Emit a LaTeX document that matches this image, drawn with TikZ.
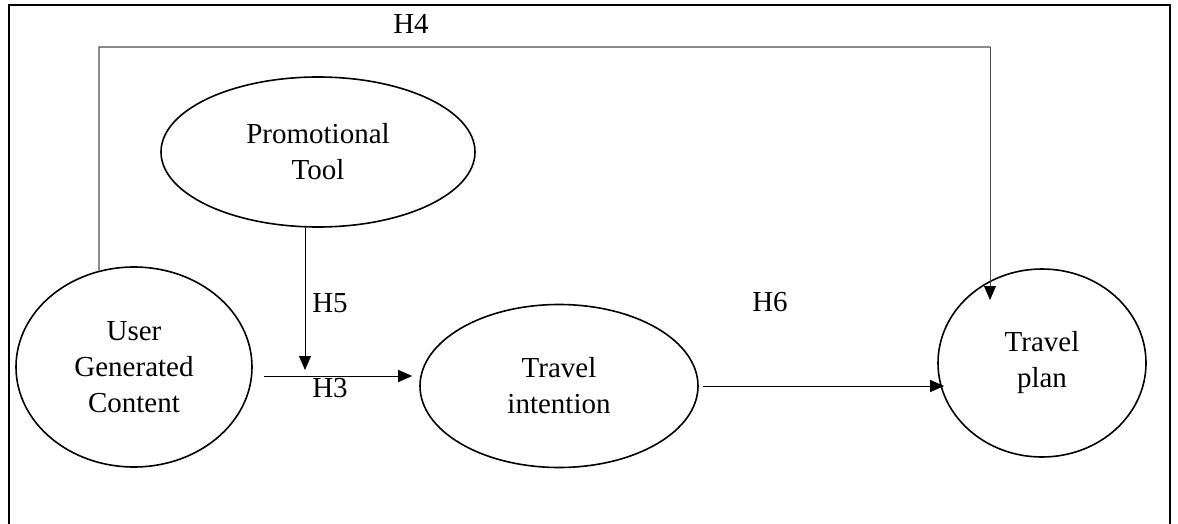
\documentclass[tikz,border=0pt]{standalone}
\usepackage{fontspec}
\setmainfont{Liberation Serif}
\usetikzlibrary{shapes.geometric, arrows.meta, calc}

\tikzset{
  construct/.style={ellipse, draw, line width=0.8pt, inner sep=0pt, align=center},
  path arrow/.style={line width=0.5pt, -{Triangle[length=7pt, width=6pt, black]}},
  hyp/.style={inner sep=0pt}
}

\begin{document}
\begin{tikzpicture}[x=0.5pt, y=-0.5pt, every node/.style={font=\fontsize{14.5}{18}\selectfont}]

  \useasboundingbox (0,0) rectangle (1178,524);

  % --- frame (bottom edge cut off) ---
  \draw[line width=1pt] (9,540) -- (9,5) -- (1170,5) -- (1170,540);

  % --- constructs ---
  \node[construct, minimum width=118pt, minimum height=100pt] (ugc) at (134,367) {User\\Generated\\Content};
  \node[construct, minimum width=157pt, minimum height=75pt] (promo) at (318,152) {Promotional\\Tool};
  \node[construct, minimum width=139pt, minimum height=81.5pt] (intent) at (559,386) {Travel\\intention};
  \node[construct, minimum width=104pt, minimum height=94pt] (plan) at (1042,363) {Travel\\plan};

  % --- H4: UGC -> travel plan over the top ---
  \coordinate (h4left) at (99,47);
  \coordinate (h4right) at (990,47);
  \draw[black!70, line width=0.6pt] (ugc.110) -- (h4left) -- (h4right);
  \draw[path arrow, draw=black!70] (h4right) -- ($(plan.center)+(-52,-63)$);
  \node[hyp] (h4) at (411,24) {H4};

  % --- H5: moderating arrow ---
  \coordinate (h5end) at (305,370);
  \draw[path arrow] ($(promo.south)+(-13,0)$) -- (h5end);
  \node[hyp] (h5) at (330,303) {H5};

  % --- H3: UGC -> travel intention ---
  \draw[path arrow] ($(ugc.east)+(11,9)$) -- ($(intent.west)+(-7,-10)$);
  \node[hyp] (h3) at (330,388) {H3};

  % --- H6: travel intention -> travel plan ---
  \draw[path arrow] ($(intent.east)+(4,0)$) -- ($(intent.east -| plan.west)+(7,0)$);
  \node[hyp] (h6) at (770,302) {H6};

\end{tikzpicture}
\end{document}
